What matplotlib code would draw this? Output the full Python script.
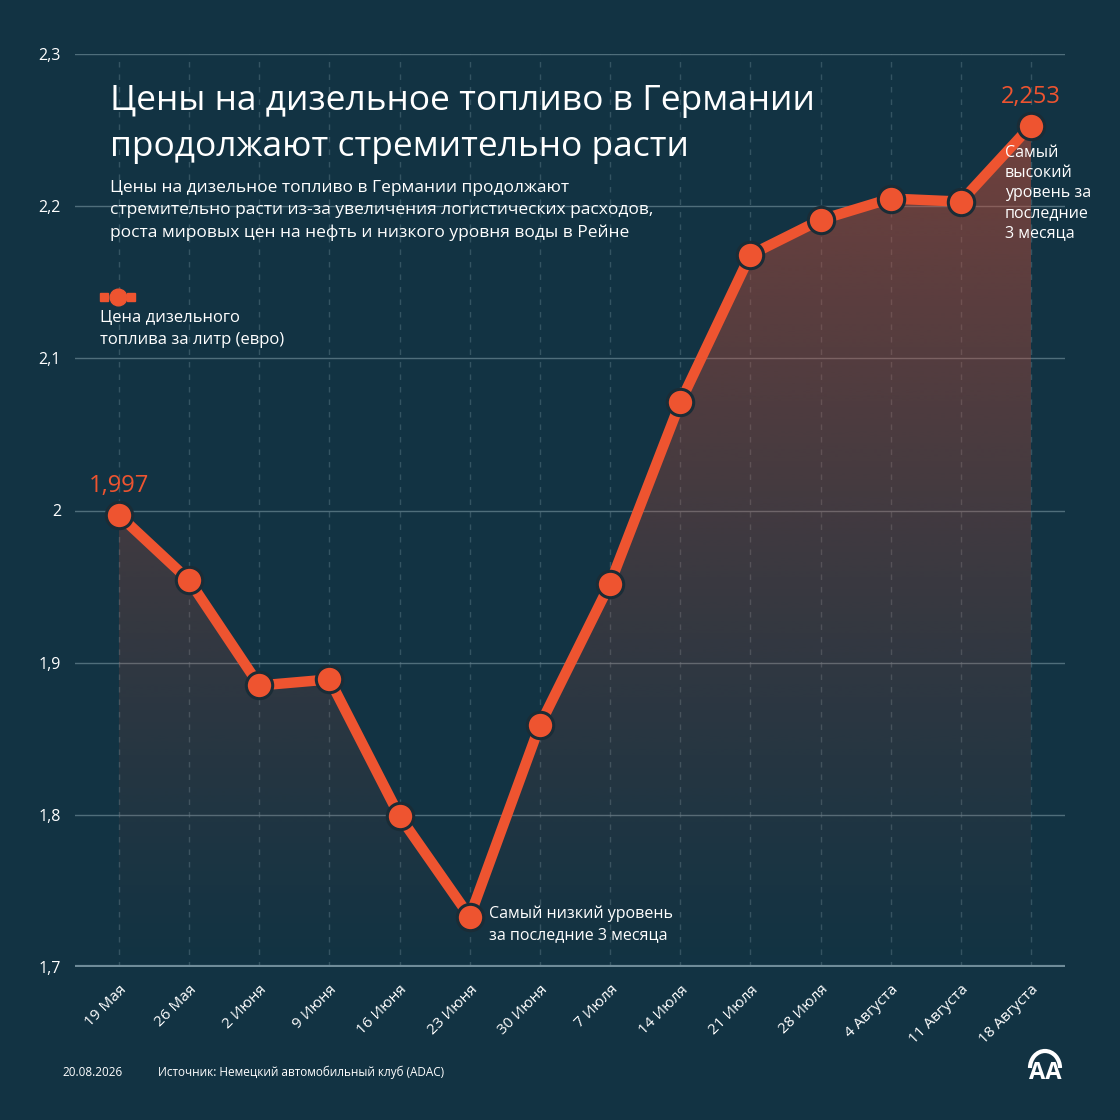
import numpy as np
import matplotlib
matplotlib.use("Agg")
import matplotlib.pyplot as plt
from matplotlib.colors import to_rgb
from matplotlib.lines import Line2D
from matplotlib.patches import Arc

plt.rcParams['font.family'] = ['Open Sans', 'DejaVu Sans']

# данные
dates = ["19 Мая", "26 Мая", "2 Июня", "9 Июня", "16 Июня", "23 Июня", "30 Июня",
         "7 Июля", "14 Июля", "21 Июля", "28 Июля", "4 Августа", "11 Августа", "18 Августа"]
prices = [1.997, 1.954, 1.885, 1.889, 1.799, 1.733, 1.859,
          1.952, 2.071, 2.168, 2.191, 2.205, 2.203, 2.253]
yticks = [1.7, 1.8, 1.9, 2.0, 2.1, 2.2, 2.3]
ytick_labels = ["1,7", "1,8", "1,9", "2", "2,1", "2,2", "2,3"]

BG = "#123343"
ORANGE = "#ee5430"
GRID = "#5f7d8a"

fig = plt.figure(figsize=(11.2, 11.2), dpi=100, facecolor=BG)
ax = fig.add_axes([75 / 1120, 1 - 967 / 1120, 990 / 1120, 913 / 1120])
ax.set_facecolor(BG)

x = np.arange(len(prices))

# сетка
for yt in yticks:
    if yt == 1.7:
        ax.axhline(yt, color="#6f8c99", lw=3, zorder=2)
    else:
        ax.axhline(yt, color=GRID, lw=1, alpha=0.8, zorder=0.5)
for xi in x:
    ax.axvline(xi, color=GRID, lw=1, ls=(0, (4, 5)), alpha=0.45, zorder=0.5)

# градиентная заливка
grad = np.zeros((256, 1, 4))
grad[..., :3] = to_rgb("#c84e38")
grad[..., 3] = np.linspace(0.6, 0.0, 256)[:, None] ** 1.1
im = ax.imshow(grad, extent=[x[0], x[-1], 1.7, 2.3], aspect='auto',
               origin='upper', zorder=1, interpolation='bilinear')
poly = ax.fill_between(x, prices, 1.7, facecolor='none', edgecolor='none')
im.set_clip_path(poly.get_paths()[0], transform=ax.transData)

# линия
ax.plot(x, prices, color=ORANGE, lw=7.5, solid_capstyle='round', zorder=3,
        marker='o', markersize=19, markerfacecolor=ORANGE,
        markeredgecolor="#1a2c36", markeredgewidth=2.2)

ax.set_xlim(-0.627, 13.485)
ax.set_ylim(1.7, 2.3)
for s in ax.spines.values():
    s.set_visible(False)
ax.set_yticks(yticks)
ax.set_yticklabels(ytick_labels, color="white", fontsize=11.5)
ax.set_xticks(x)
ax.set_xticklabels(dates, rotation=45, ha='right', va='top', rotation_mode='anchor',
                   color="white", fontsize=11)
ax.tick_params(axis='x', length=0, pad=11)
ax.tick_params(axis='y', length=0, pad=10)

# подписи значений
ax.annotate("1,997", (x[0], prices[0]), xytext=(0, 12), textcoords='offset points',
            ha='center', va='bottom', color=ORANGE, fontsize=17, zorder=5)
ax.annotate("2,253", (x[-1], prices[-1]), xytext=(0, 12), textcoords='offset points',
            ha='center', va='bottom', color=ORANGE, fontsize=17, zorder=5)

ax.annotate("Самый низкий уровень\nза последние 3 месяца", (x[5], prices[5]),
            xytext=(14, 8), textcoords='offset points', ha='left', va='top',
            color="white", fontsize=11.5, linespacing=1.45, zorder=5)
ax.annotate("Самый\nвысокий\nуровень за\nпоследние\n3 месяца", (x[-1], prices[-1]),
            xytext=(-19, -14), textcoords='offset points', ha='left', va='top',
            color="white", fontsize=11.5, linespacing=1.33, zorder=5)

# заголовок
fig.text(110 / 1120, 1 - 84 / 1120,
         "Цены на дизельное топливо в Германии\nпродолжают стремительно расти",
         color="white", fontsize=25.5, va='top', ha='left', linespacing=1.45)
fig.text(110 / 1120, 1 - 180 / 1120,
         "Цены на дизельное топливо в Германии продолжают\n"
         "стремительно расти из-за увеличения логистических расходов,\n"
         "роста мировых цен на нефть и низкого уровня воды в Рейне",
         color="white", fontsize=12.5, va='top', ha='left', linespacing=1.5)

# легенда
fig.add_artist(Line2D([104 / 1120, 131 / 1120], [1 - 297 / 1120] * 2, color=ORANGE,
                      lw=0, marker='s', markersize=6))
fig.add_artist(Line2D([117.5 / 1120], [1 - 297 / 1120], color=ORANGE, lw=0,
                      marker='o', markersize=12))
fig.text(100 / 1120, 1 - 310 / 1120, "Цена дизельного\nтоплива за литр (евро)",
         color="white", fontsize=12, va='top', ha='left', linespacing=1.5)

# подвал
fig.text(62 / 1120, 1 - 1072 / 1120, "20.08.2026", color="white", fontsize=8.5,
         va='center', ha='left')
fig.text(158 / 1120, 1 - 1072 / 1120, "Источник: Немецкий автомобильный клуб (ADAC)",
         color="white", fontsize=8.5, va='center', ha='left')
fig.text(1045 / 1120, 1 - 1073 / 1120, "AA", color="white", fontsize=17,
         fontweight='bold', va='center', ha='center')
fig.add_artist(Arc((1045 / 1120, 1 - 1068 / 1120), 30 / 1120, 34 / 1120, theta1=0,
                   theta2=180, color="white", lw=3, transform=fig.transFigure))

fig.savefig("out.png", dpi=100, facecolor=BG)
